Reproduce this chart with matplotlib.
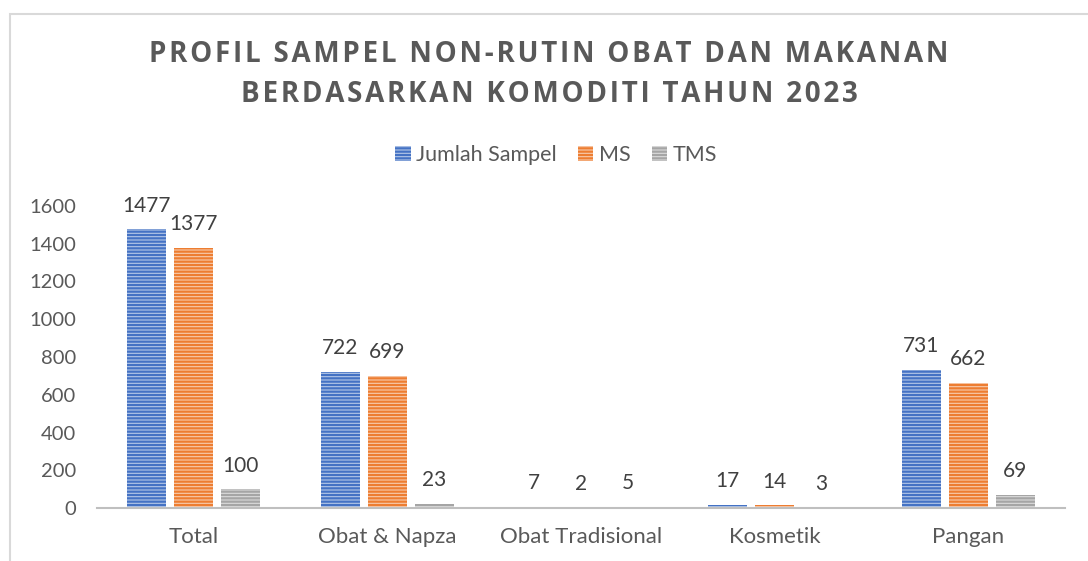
import matplotlib.pyplot as plt
import matplotlib.patches as mpatches
import numpy as np

# data
categories = ["Total", "Obat & Napza", "Obat Tradisional", "Kosmetik", "Pangan"]
jumlah_sampel = [1477, 722, 7, 17, 731]
ms = [1377, 699, 2, 14, 662]
tms = [100, 23, 5, 3, 69]
series_names = ["Jumlah Sampel", "MS", "TMS"]
title_lines = ["PROFIL SAMPEL NON-RUTIN OBAT DAN MAKANAN",
               "BERDASARKAN KOMODITI TAHUN 2023"]

plt.rcParams['font.family'] = ['Lato', 'DejaVu Sans']
plt.rcParams['hatch.linewidth'] = 1.6

fig = plt.figure(figsize=(10.88, 5.61), dpi=100)

# chart border
fig.patches.append(mpatches.Rectangle((10 / 1088, -0.1), 1.2, 1 - 14 / 561 + 0.1,
                                      transform=fig.transFigure, fill=False,
                                      edgecolor="#d9d9d9", linewidth=1.5))

ax = fig.add_axes([97 / 1088, 1 - 508 / 561, 968 / 1088, 302 / 561])

colors = ["#4472C4", "#ED7D31", "#A5A5A5"]
light = ["#b4c7e7", "#f8cbad", "#dbdbdb"]
x = np.arange(len(categories))
width = 0.2
step = 0.243

for i, (vals, name) in enumerate(zip([jumlah_sampel, ms, tms], series_names)):
    pos = x + (i - 1) * step
    bars = ax.bar(pos, vals, width, color=light[i], edgecolor=colors[i],
                  hatch="-----", linewidth=0, label=name)
    for b, v in zip(bars, vals):
        ax.annotate(str(v), (b.get_x() + b.get_width() / 2, v),
                    xytext=(0, 17), textcoords="offset points",
                    ha="center", va="center", fontsize=15, color="#404040")

ax.set_xlim(-0.5, len(categories) - 0.5)
ax.set_ylim(0, 1600)
ax.set_yticks(range(0, 1601, 200))
ax.set_xticks(x)
ax.set_xticklabels(categories)
ax.tick_params(axis="both", length=0, colors="#595959")
ax.tick_params(axis="y", pad=15, labelsize=14.5)
ax.tick_params(axis="x", pad=14, labelsize=16)
for s in ["top", "right", "left"]:
    ax.spines[s].set_visible(False)
ax.spines["bottom"].set_color("#bfbfbf")
ax.spines["bottom"].set_linewidth(1.5)

# letter-spaced title (hair spaces between letters)
for line, ypix in zip(title_lines, [55, 95]):
    spaced = "\u200a".join(line)
    fig.text(549 / 1088, 1 - ypix / 561, spaced, ha="center", va="center",
             fontsize=20, fontweight="bold", color="#595959",
             family=["Open Sans", "DejaVu Sans"])

fig.legend(loc="center", bbox_to_anchor=(556 / 1088, 1 - 155 / 561), ncol=3,
           frameon=False, fontsize=15.5, handlelength=0.7, handleheight=0.7,
           handletextpad=0.25, columnspacing=1.0, labelcolor="#595959")

fig.savefig("out.png", dpi=100)
